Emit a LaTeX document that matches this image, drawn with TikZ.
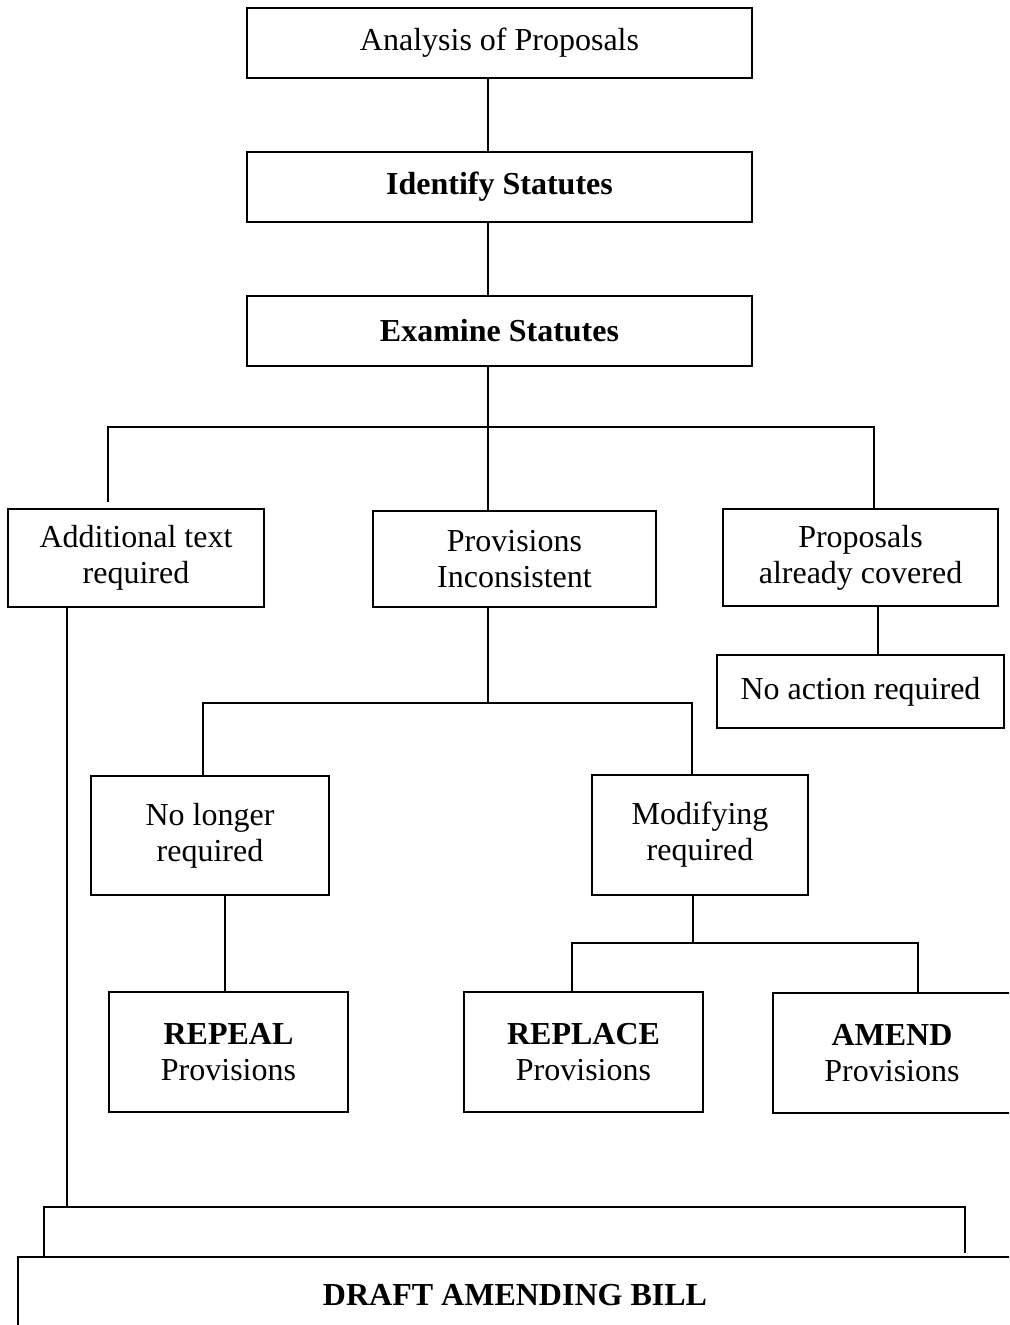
\documentclass[tikz,border=0pt]{standalone}
\usepackage{fontspec}
\setmainfont{Liberation Serif}

\begin{document}
\begin{tikzpicture}[-,x=0.5pt,y=-0.5pt,node distance=72pt,thick,main node/.style={rectangle,draw,inner sep=0pt,align=center,font=\fontsize{16}{18}\selectfont},wide node/.style={main node,minimum width=252.5pt,minimum height=35pt}]
                \useasboundingbox (0,0) rectangle (1009,1325);
                \clip (0,0) rectangle (1009,1325);

                \node[wide node] (1) at (499.5,43) {Analysis of Proposals};
                \node[wide node] (2) [below of=1] {\textbf{Identify Statutes}};
                \node[wide node] (3) [below of=2] {\textbf{Examine Statutes}};
                \node[main node,minimum width=128pt,minimum height=49pt] (4) at (136,558) {Additional text\\required};
                \node[main node,minimum width=141.5pt,minimum height=48pt] (5) at (514.5,559) {Provisions\\Inconsistent};
                \node[main node,minimum width=137.5pt,minimum height=48.5pt] (6) at (860.5,557.5) {Proposals\\already covered};
                \node[main node,minimum width=143.5pt,minimum height=36.5pt] (7) at (860.5,691.5) {No action required};
                \node[main node,minimum width=119pt,minimum height=59.5pt] (8) at (210,835.5) {No longer\\required};
                \node[main node,minimum width=108pt,minimum height=60pt] (9) at (700,835) {Modifying\\required};
                \node[main node,minimum width=119.5pt,minimum height=60pt] (10) at (228.5,1052) {\textbf{REPEAL}\\Provisions};
                \node[main node,minimum width=119.5pt,minimum height=60pt] (11) at (583.5,1052) {\textbf{REPLACE}\\Provisions};
                \node[main node,minimum width=119pt,minimum height=60pt] (12) at (892,1053) {\textbf{AMEND}\\Provisions};
                \node[main node,minimum width=497pt,minimum height=38pt] (13) at (515,1295) {\textbf{DRAFT AMENDING BILL}};

                \coordinate (a) at (488,427);
                \coordinate (b) at (108,427);
                \coordinate (c) at (874,427);
                \coordinate (d) at (878,0);
                \coordinate (e) at (488,703);
                \coordinate (f) at (203,703);
                \coordinate (g) at (692,703);
                \coordinate (h) at (225,0);
                \coordinate (i) at (693,943);
                \coordinate (j) at (572,943);
                \coordinate (k) at (918,943);
                \coordinate (l) at (67,1207);
                \coordinate (m) at (44,1207);
                \coordinate (n) at (965,1207);

                \draw (1.south -| a) -- (2.north -| a);
                \draw (2.south -| a) -- (3.north -| a);
                \draw (3.south -| a) -- (5.north -| a);
                \draw (b) ++(0,75) -- (b) -- (c) -- (c |- 6.north);
                \draw (6.south -| d) -- (7.north -| d);
                \draw (5.south -| e) -- (e);
                \draw (8.north -| f) -- (f) -- (g) -- (g |- 9.north);
                \draw (8.south -| h) -- (10.north -| h);
                \draw (9.south -| i) -- (i);
                \draw (11.north -| j) -- (j) -- (k) -- (k |- 12.north);
                \draw (4.south -| l) -- (l);
                \draw (13.north -| m) -- (m) -- (n) -- ++(0,46);
            \end{tikzpicture}
\end{document}
